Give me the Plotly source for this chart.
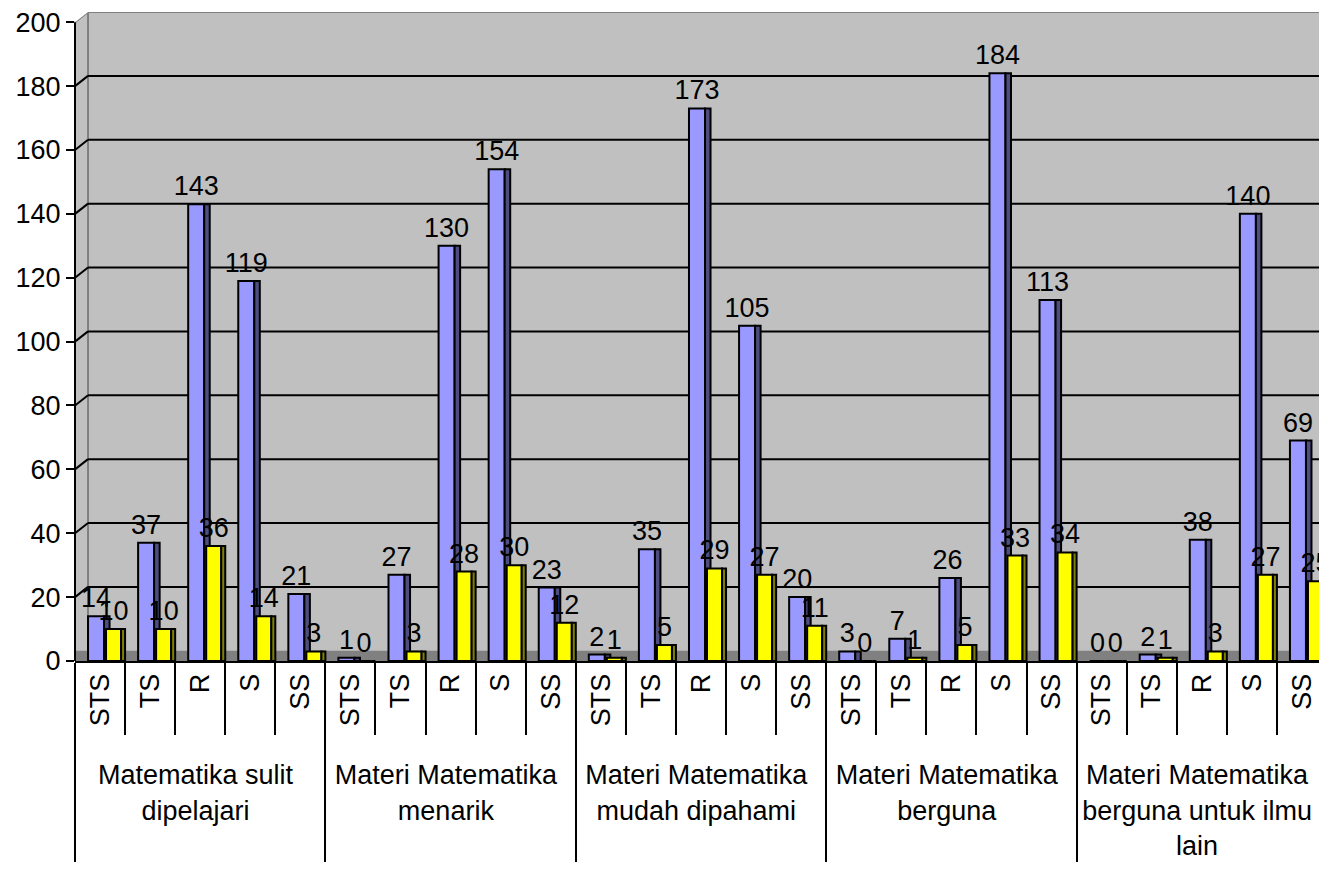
import plotly.graph_objects as go

groups = [
    "Matematika sulit<br>dipelajari",
    "Materi Matematika<br>menarik",
    "Materi Matematika<br>mudah dipahami",
    "Materi Matematika<br>berguna",
    "Materi Matematika<br>berguna untuk ilmu<br>lain",
]
answers = ["STS", "TS", "R", "S", "SS"]

series_a = [
    [14, 37, 143, 119, 21],
    [1, 27, 130, 154, 23],
    [2, 35, 173, 105, 20],
    [3, 7, 26, 184, 113],
    [0, 2, 38, 140, 69],
]
series_b = [
    [10, 10, 36, 14, 3],
    [0, 3, 28, 30, 12],
    [1, 5, 29, 27, 11],
    [0, 1, 5, 33, 34],
    [0, 1, 3, 27, 25],
]

x_outer = [g for g in groups for _ in answers]
x_inner = ["\u00a0" + a for _ in groups for a in answers]
x = [x_outer, x_inner]

vals_a = [v for row in series_a for v in row]
vals_b = [v for row in series_b for v in row]

font = "Liberation Sans, Arial"
fs = 27
depth = 3.2  # back wall sits this far "above" the front axis
outline = dict(color="black", width=2)

fig = go.Figure()
# each series: a front face plus a darker side face to fake the 3D look
fig.add_trace(go.Bar(
    x=x, y=vals_a, name="A",
    offset=-0.24, width=0.32,
    marker=dict(color="#9999FF", line=outline),
    text=vals_a, textposition="outside",
    textfont=dict(family=font, size=fs, color="black"),
    cliponaxis=False,
))
fig.add_trace(go.Bar(
    x=x, y=vals_a, offset=0.08, width=0.11,
    marker=dict(color="#4D4D80", line=outline), hoverinfo="skip",
))
fig.add_trace(go.Bar(
    x=x, y=vals_b, name="B",
    offset=0.12, width=0.30,
    marker=dict(color="#FFFF00", line=outline),
    text=vals_b, textposition="outside",
    textfont=dict(family=font, size=fs, color="black"),
    cliponaxis=False,
))
fig.add_trace(go.Bar(
    x=x, y=vals_b, offset=0.42, width=0.08,
    marker=dict(color="#808000", line=outline), hoverinfo="skip",
))

# floor, side wall and back-wall grid of the 3D box
wall_x = 0.0104
fig.add_shape(type="rect", xref="paper", yref="y", x0=0, x1=1, y0=0, y1=depth,
              fillcolor="#808080", line=dict(width=0), layer="below")
fig.add_shape(type="line", xref="paper", yref="y", x0=wall_x, x1=wall_x, y0=depth, y1=200 + depth,
              line=dict(color="#808080", width=2), layer="below")
fig.add_shape(type="line", xref="paper", yref="y", x0=wall_x, x1=1, y0=200 + depth, y1=200 + depth,
              line=dict(color="#808080", width=2), layer="below")
fig.add_shape(type="line", xref="paper", yref="y", x0=0, x1=wall_x, y0=200, y1=200 + depth,
              line=dict(color="#808080", width=2), layer="below")
fig.add_shape(type="path", xref="paper", yref="y",
              path=f"M 0 200 L {wall_x} {200 + depth} L 0 {200 + depth} Z",
              fillcolor="white", line=dict(width=0), layer="below")
for v in range(20, 200, 20):
    fig.add_shape(type="line", xref="paper", yref="y", x0=wall_x, x1=1, y0=v + depth, y1=v + depth,
                  line=dict(color="black", width=2), layer="below")
    fig.add_shape(type="line", xref="paper", yref="y", x0=0, x1=wall_x, y0=v, y1=v + depth,
                  line=dict(color="black", width=2), layer="below")
# front value axis line, only up to 200
fig.add_shape(type="line", xref="paper", yref="y", x0=0, x1=0, y0=0, y1=200,
              line=dict(color="black", width=2))

# page body has an 8px margin, so the figure is shifted; compensate here
fig.update_layout(
    width=1319, height=876,
    margin=dict(l=67, r=0, t=4, b=223),
    paper_bgcolor="white",
    plot_bgcolor="#C0C0C0",
    barmode="overlay",
    showlegend=False,
    uniformtext=dict(minsize=fs, mode="show"),
    font=dict(family=font, size=fs, color="black"),
    xaxis=dict(
        type="multicategory",
        tickangle=-90,
        automargin=False,
        showline=True, linecolor="black", linewidth=2,
        ticks="outside", tickson="boundaries", ticklen=72, tickwidth=2, tickcolor="black",
        showdividers=True, dividercolor="black", dividerwidth=2,
        tickfont=dict(family=font, size=fs),
        showgrid=False,
    ),
    yaxis=dict(
        range=[0, 200 + depth], tickvals=list(range(0, 201, 20)),
        automargin=False,
        showline=False,
        ticks="outside", ticklen=8, tickwidth=2, tickcolor="black",
        showgrid=False, zeroline=False,
        ticklabeloverflow="allow",
        tickfont=dict(family=font, size=fs),
    ),
)

fig.write_html("out.html")
